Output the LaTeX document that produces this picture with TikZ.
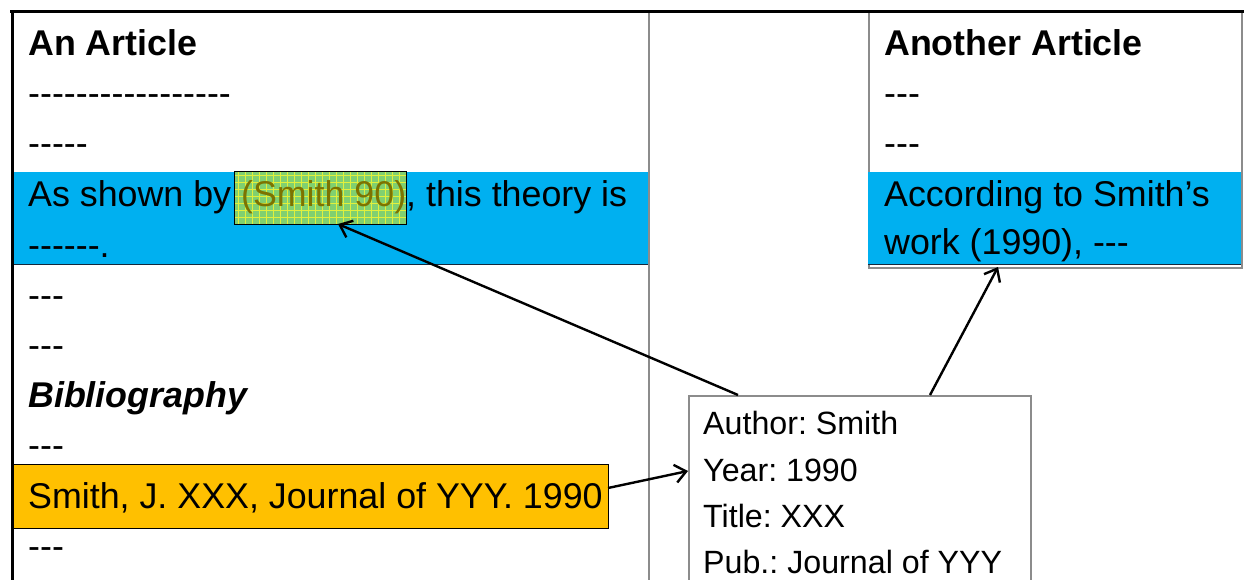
\documentclass[tikz,border=0pt]{standalone}
\usepackage{fontspec}
\setmainfont{Liberation Sans}[Ligatures=TeXOff]
\usetikzlibrary{arrows.meta}
\definecolor{bandblue}{RGB}{0,176,240}
\definecolor{bandorange}{RGB}{255,192,0}
\definecolor{citegreen}{RGB}{128,208,112}
\definecolor{gridyellow}{RGB}{225,240,60}
\definecolor{citetext}{RGB}{125,115,0}
\definecolor{boxgrey}{RGB}{140,140,140}
\definecolor{banddark}{RGB}{20,40,60}
\frenchspacing
\begin{document}
\begin{tikzpicture}[x=1pt,y=-1pt,
  panel/.style={draw=boxgrey, line width=1.5pt, fill=white, inner sep=0, anchor=north west},
  band/.style={inner sep=0, anchor=north west},
  txt/.style={anchor=base west, inner sep=0, font=\fontsize{35.8}{40}\selectfont},
  metatxt/.style={anchor=base west, inner sep=0, font=\fontsize{32.2}{36}\selectfont},
  link/.style={line width=2.4pt, -{Straight Barb[length=11pt,width=18pt,line width=2.4pt]}}
]
\useasboundingbox (0,0) rectangle (1244,580);
\fill[white] (0,0) rectangle (1244,580);

% left article
\node[panel, minimum width=636pt, minimum height=568pt] (art1) at (12,12) {};
\node[band, fill=bandblue, minimum width=636pt, minimum height=92pt] (band1) at (12,172) {};
\draw[banddark, line width=1.2pt] (band1.south west) -- (band1.south east);
\node[band, fill=citegreen, minimum width=172pt, minimum height=52pt] (cite) at (234,172) {};
\begin{scope}
  \clip (cite.south west) rectangle (cite.north east);
  \draw[gridyellow, line width=0.8pt, step=7pt] (234,172) grid (406,224);
\end{scope}
\draw[black, line width=1pt] (cite.south west) rectangle (cite.north east);
\node[band, fill=bandorange, draw=black, line width=1pt, minimum width=596pt, minimum height=64pt] (bib) at (12,464) {};

\node[txt] (t0) at (28,56) {\textbf{An Article}};
\node[txt] (t1) at (28,106) {-----------------};
\node[txt] (t2) at (28,156) {-----};
\node[txt] (t3) at (28,207) {As shown by \textcolor{citetext}{(Smith 90)}, this theory is};
\node[txt] (t4) at (28,257) {------.};
\node[txt] (t5) at (28,307) {---};
\node[txt] (t6) at (28,357) {---};
\node[txt] (t7) at (28,407) {\textbf{\textit{Bibliography}}};
\node[txt] (t8) at (28,457) {---};
\node[txt] (t9) at (28,508) {Smith, J. XXX, Journal of YYY. 1990};
\node[txt] (t10) at (28,558) {---};

% right article
\node[panel, minimum width=373pt, minimum height=255pt] (art2) at (868,12) {};
\node[band, fill=bandblue, minimum width=373pt, minimum height=92pt] (band2) at (868,172) {};
\draw[banddark, line width=1.2pt] (band2.south west) -- (band2.south east);
\node[txt] (r0) at (884,56) {\textbf{Another Article}};
\node[txt] (r1) at (884,106) {---};
\node[txt] (r2) at (884,156) {---};
\node[txt] (r3) at (884,207) {According to Smith’s};
\node[txt] (r4) at (884,254) {work (1990), ---};

% metadata record
\node[panel, minimum width=342pt, minimum height=188pt] (rec) at (688,395) {};
\node[metatxt] (m0) at (703,434) {Author: Smith};
\node[metatxt] (m1) at (703,481) {Year: 1990};
\node[metatxt] (m2) at (703,527) {Title: XXX};
\node[metatxt] (m3) at (703,573) {Pub.: Journal of YYY};

% frame lines
\draw[black, line width=3pt] (10,12) -- (1244,12);
\draw[black, line width=3pt] (12,12) -- (12,580);

% connectors
\coordinate (recA) at (738,395);
\coordinate (citeEnd) at (338,224);
\coordinate (recB) at (930,395);
\coordinate (art2End) at (998,267);
\coordinate (bibStart) at (608,488);
\coordinate (recC) at (688,471);
\draw[link] (recA) -- (citeEnd);
\draw[link] (recB) -- (art2End);
\draw[link] (bibStart) -- (recC);
\end{tikzpicture}
\end{document}
